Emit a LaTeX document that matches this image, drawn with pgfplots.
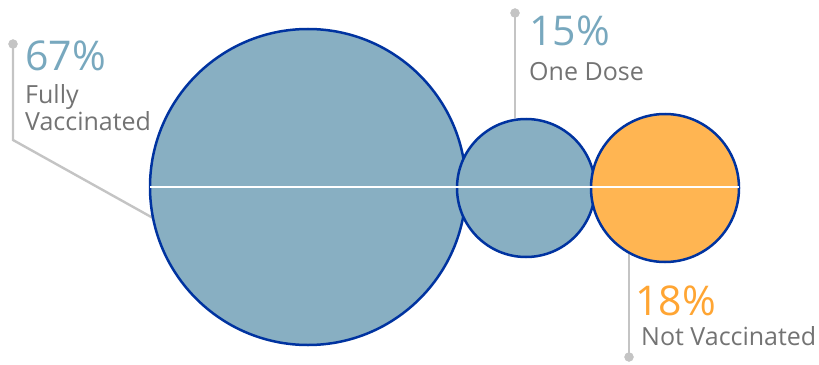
\documentclass[border=0pt]{standalone}
\usepackage{pgfplots}
\pgfplotsset{compat=1.18}
\usepackage{fontspec}
\setmainfont{Open Sans}
\definecolor{bfill}{HTML}{88AFC2}
\definecolor{ofill}{HTML}{FFB552}
\definecolor{bord}{HTML}{0033A0}
\definecolor{btext}{HTML}{78A8BE}
\definecolor{otext}{HTML}{FFA533}
\definecolor{ltext}{HTML}{737373}
\definecolor{lead}{HTML}{C4C4C4}
\begin{document}
\begin{tikzpicture}
\begin{axis}[x=1bp,y=1bp,xmin=0,xmax=819,ymin=0,ymax=364,
  axis lines=none, scale only axis, clip=false, clip marker paths=true]
% leader lines
\addplot[lead, line width=2.4bp, mark=none] coordinates {(13,320) (13,224) (153,146)};
\addplot[lead, line width=2.4bp, mark=none] coordinates {(515,351) (515,246)};
\addplot[lead, line width=2.4bp, mark=none] coordinates {(629,110) (629,7)};
\addplot[only marks, mark=*, mark size=4.5bp, lead, mark options={draw=lead, fill=lead}] coordinates {(13,320) (515,351) (629,7)};
% bubbles (value: 67, 15, 18)
\addplot[only marks, mark=*, mark size=158bp, mark options={fill=bfill, draw=bord, line width=2.5bp}] coordinates {(308,177)};
\addplot[only marks, mark=*, mark size=69bp, mark options={fill=bfill, draw=bord, line width=2.5bp}] coordinates {(526,176)};
\addplot[only marks, mark=*, mark size=74bp, mark options={fill=ofill, draw=bord, line width=2.5bp}] coordinates {(665,176)};
% baseline
\addplot[white, line width=2bp, mark=none] coordinates {(150,177.3) (739,177.3)};
% labels
\node[anchor=base west, inner sep=0, text=btext, font=\fontsize{41bp}{41bp}\selectfont] at (axis cs:25,294) {67\%};
\node[anchor=base west, inner sep=0, text=ltext, font=\fontsize{25bp}{25bp}\selectfont] at (axis cs:25,261) {Fully};
\node[anchor=base west, inner sep=0, text=ltext, font=\fontsize{25bp}{25bp}\selectfont] at (axis cs:25,234) {Vaccinated};
\node[anchor=base west, inner sep=0, text=btext, font=\fontsize{41bp}{41bp}\selectfont] at (axis cs:529,319) {15\%};
\node[anchor=base west, inner sep=0, text=ltext, font=\fontsize{25bp}{25bp}\selectfont] at (axis cs:529,284) {One Dose};
\node[anchor=base west, inner sep=0, text=otext, font=\fontsize{41bp}{41bp}\selectfont] at (axis cs:635,49) {18\%};
\node[anchor=base west, inner sep=0, text=ltext, font=\fontsize{25bp}{25bp}\selectfont] at (axis cs:641,19) {Not Vaccinated};
\end{axis}
\pgfresetboundingbox
\path (current axis.south west) rectangle (current axis.north east);
\end{tikzpicture}
\end{document}
